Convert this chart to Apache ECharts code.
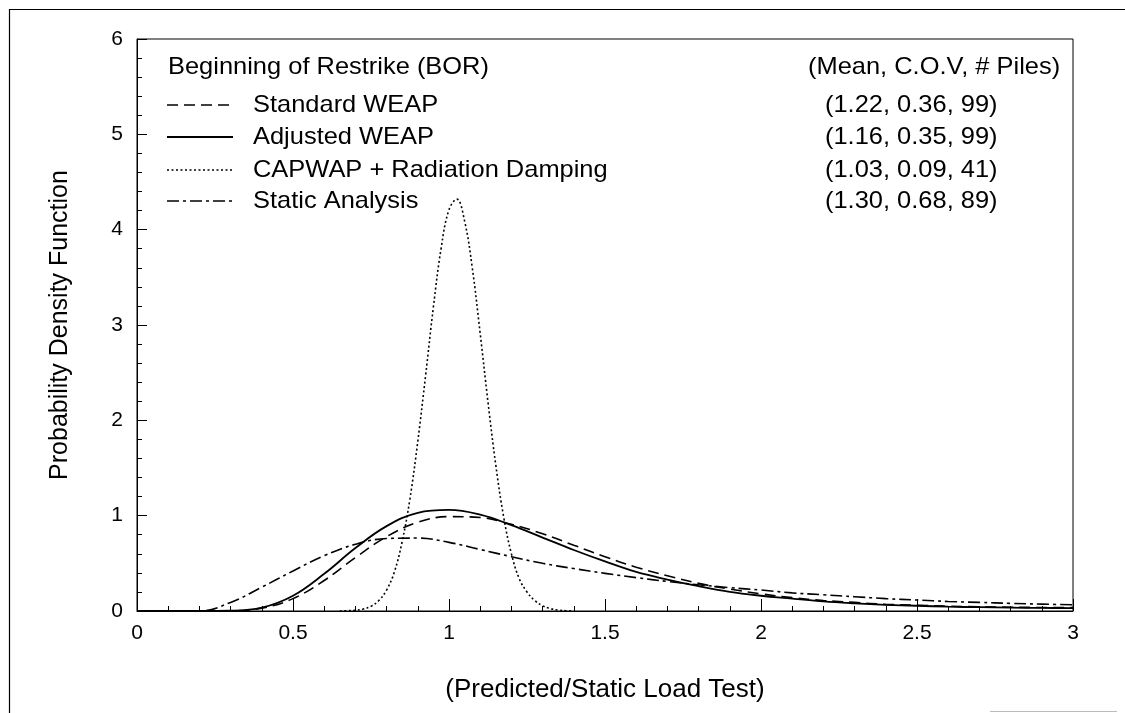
<!DOCTYPE html>
<html>
<head>
<meta charset="utf-8">
<script src="https://cdn.jsdelivr.net/npm/echarts@6/dist/echarts.min.js"></script>
<style>
html,body{margin:0;padding:0;background:#fff;}
#chart{width:1125px;height:713px;}
</style>
</head>
<body>
<div id="chart"></div>
<script>
// ---- data ----
const xGrid = [0, 0.1, 0.2, 0.3, 0.4, 0.5, 0.6, 0.7, 0.8, 0.9, 1.0, 1.1, 1.2, 1.3, 1.4, 1.5, 1.6, 1.7, 1.8, 1.9, 2.0, 2.1, 2.2, 2.3, 2.4, 2.5, 2.6, 2.7, 2.8, 2.9, 3.0];
const standardWEAP = [0, 0, 0, 0.002, 0.03, 0.13, 0.32, 0.56, 0.78, 0.93, 0.99, 0.98, 0.91, 0.81, 0.69, 0.57, 0.46, 0.37, 0.29, 0.23, 0.18, 0.14, 0.11, 0.09, 0.07, 0.06, 0.05, 0.045, 0.04, 0.037, 0.035];
const adjustedWEAP = [0, 0, 0, 0.003, 0.035, 0.16, 0.39, 0.66, 0.89, 1.03, 1.06, 1.01, 0.9, 0.77, 0.64, 0.52, 0.41, 0.33, 0.26, 0.2, 0.16, 0.13, 0.1, 0.08, 0.065, 0.055, 0.045, 0.04, 0.035, 0.032, 0.03];
const staticAnalysis = [0, 0, 0, 0.09, 0.25, 0.42, 0.58, 0.7, 0.76, 0.765, 0.72, 0.645, 0.57, 0.5, 0.445, 0.395, 0.35, 0.31, 0.275, 0.245, 0.22, 0.19, 0.17, 0.15, 0.13, 0.115, 0.1, 0.09, 0.08, 0.072, 0.065];
const capwapX = [0.65, 0.675, 0.7, 0.725, 0.75, 0.775, 0.8, 0.825, 0.85, 0.875, 0.9, 0.925, 0.95, 0.975, 1.0, 1.025, 1.05, 1.075, 1.1, 1.125, 1.15, 1.175, 1.2, 1.225, 1.25, 1.275, 1.3, 1.325, 1.35, 1.375, 1.4];
const capwapY = [0, 0.003, 0.008, 0.02, 0.05, 0.11, 0.22, 0.41, 0.73, 1.18, 1.78, 2.47, 3.19, 3.81, 4.21, 4.32, 4.09, 3.59, 2.91, 2.19, 1.53, 0.99, 0.6, 0.34, 0.2, 0.11, 0.055, 0.025, 0.01, 0.003, 0];
const seriesNames = ['Standard WEAP', 'Adjusted WEAP', 'CAPWAP + Radiation Damping', 'Static Analysis'];
const statsLabels = ['(1.22, 0.36, 99)', '(1.16, 0.35, 99)', '(1.03, 0.09, 41)', '(1.30, 0.68, 89)'];
const legendTitle = 'Beginning of Restrike (BOR)';
const statsTitle = '(Mean, C.O.V, # Piles)';
const xTitle = '(Predicted/Static Load Test)';
const yTitle = 'Probability Density Function';

// ---- chart ----
const FONT = 'Liberation Sans, Arial, Helvetica, sans-serif';
const pairs = (xs, ys) => xs.map((x, i) => [x, ys[i]]);
const chart = echarts.init(document.getElementById('chart'), null, {renderer: 'canvas'});

const dashStyles = [[11, 6], null, [2, 2.5], [12, 4, 3, 4]];
const widths = [1.6, 1.8, 1.6, 1.6];
const baseLine = {type: 'line', symbol: 'none', smooth: 0.4, animation: false, z: 3};

const rowY = [105, 137, 170, 201];
const LFS = 24;
const textStyle = (t, extra) => Object.assign({text: t, fontSize: LFS, fontFamily: FONT, fill: '#000', verticalAlign: 'middle'}, extra || {});
const graphics = [
  {type: 'rect', left: 7, top: 7, shape: {width: 1200, height: 800}, style: {fill: 'none', stroke: '#000', lineWidth: 1.2}, silent: true},
  {type: 'line', shape: {x1: 990, y1: 711.5, x2: 1117, y2: 711.5}, style: {stroke: '#bbb', lineWidth: 1}, silent: true},
  {type: 'text', x: 168, y: 67, scaleX: 1.06, style: textStyle(legendTitle)},
  {type: 'text', x: 808, y: 67, scaleX: 1.06, style: textStyle(statsTitle)}
];
seriesNames.forEach((name, i) => {
  graphics.push({type: 'line', shape: {x1: 167, y1: rowY[i], x2: 233, y2: rowY[i]},
    style: {stroke: '#000', lineWidth: widths[i], lineDash: dashStyles[i]}, silent: true});
  graphics.push({type: 'text', x: 253, y: rowY[i], scaleX: 1.06, style: textStyle(name)});
  graphics.push({type: 'text', x: 825, y: rowY[i], scaleX: 1.06, style: textStyle(statsLabels[i])});
});

chart.setOption({
  backgroundColor: '#fff',
  animation: false,
  grid: {left: 137, right: 52, top: 39, bottom: 102, show: true, borderColor: '#000', borderWidth: 1, backgroundColor: 'transparent'},
  xAxis: {
    type: 'value', min: 0, max: 3, interval: 0.5,
    name: xTitle, nameLocation: 'middle', nameGap: 66,
    nameTextStyle: {fontSize: 26, fontFamily: FONT, color: '#000'},
    axisLine: {show: true, lineStyle: {color: '#000', width: 1}},
    axisTick: {show: true, inside: true, length: 12, lineStyle: {color: '#000'}},
    minorTick: {show: true, splitNumber: 5, length: 5, lineStyle: {color: '#000'}},
    axisLabel: {margin: 12, fontSize: 21, fontFamily: FONT, color: '#000'},
    splitLine: {show: false}
  },
  yAxis: {
    type: 'value', min: 0, max: 6, interval: 1,
    name: yTitle, nameLocation: 'middle', nameGap: 64,
    nameTextStyle: {fontSize: 25, fontFamily: FONT, color: '#000'},
    axisLine: {show: true, lineStyle: {color: '#000', width: 1}},
    axisTick: {show: true, inside: true, length: 10, lineStyle: {color: '#000'}},
    minorTick: {show: true, splitNumber: 5, length: 5, lineStyle: {color: '#000'}},
    axisLabel: {margin: 14, fontSize: 21, fontFamily: FONT, color: '#000'},
    splitLine: {show: false}
  },
  graphic: graphics,
  series: [
    Object.assign({}, baseLine, {name: seriesNames[0], data: pairs(xGrid, standardWEAP), lineStyle: {color: '#000', width: widths[0], type: dashStyles[0]}}),
    Object.assign({}, baseLine, {name: seriesNames[1], data: pairs(xGrid, adjustedWEAP), lineStyle: {color: '#000', width: widths[1], type: 'solid'}}),
    Object.assign({}, baseLine, {name: seriesNames[2], data: pairs(capwapX, capwapY), lineStyle: {color: '#000', width: widths[2], type: dashStyles[2]}}),
    Object.assign({}, baseLine, {name: seriesNames[3], data: pairs(xGrid, staticAnalysis), lineStyle: {color: '#000', width: widths[3], type: dashStyles[3]}})
  ]
});
</script>
</body>
</html>
